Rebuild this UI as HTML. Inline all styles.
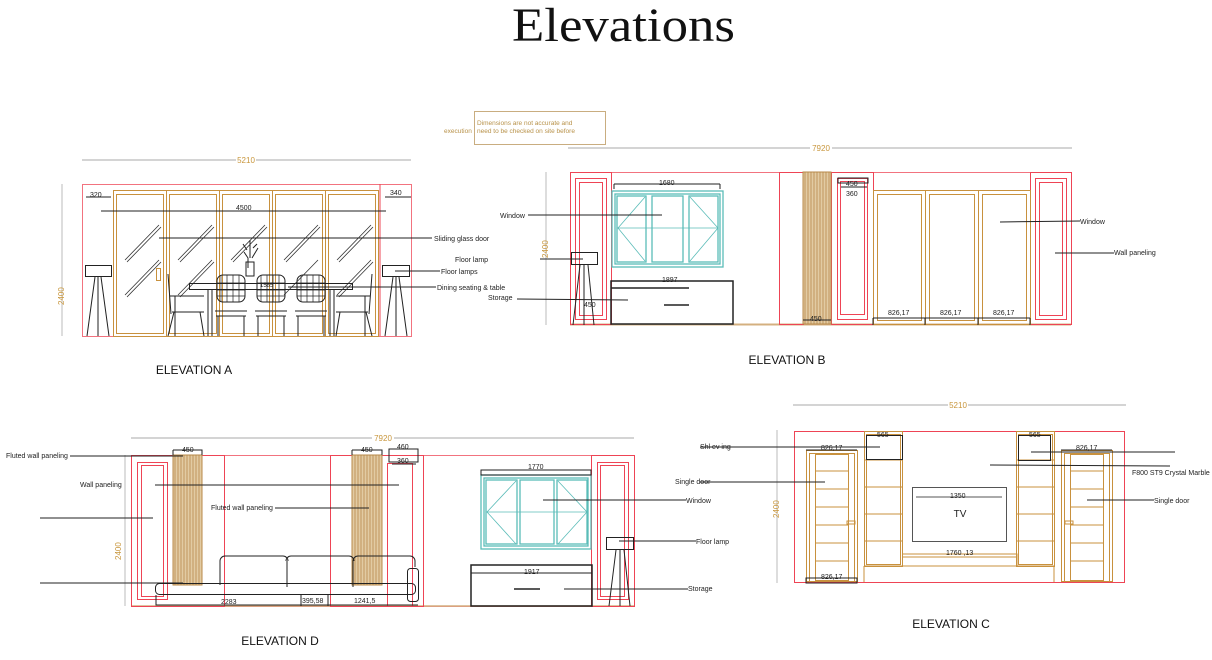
<!DOCTYPE html>
<html><head><meta charset="utf-8"><style>
html,body{margin:0;padding:0;background:#fff;width:1212px;height:660px;overflow:hidden}
text{font-family:"Liberation Sans",sans-serif}
</style></head><body>
<svg width="1212" height="660" viewBox="0 0 1212 660" xmlns="http://www.w3.org/2000/svg">
<defs>
<pattern id="fl" width="3" height="10" patternUnits="userSpaceOnUse"><rect width="3" height="10" fill="#e2cba3"/><line x1="1" y1="0" x2="1" y2="10" stroke="#b8894a" stroke-width="0.8"/></pattern>
</defs>
<text x="512" y="41" font-size="48" textLength="223" lengthAdjust="spacingAndGlyphs" fill="#111" style="font-family:'Liberation Serif',serif">Elevations</text>

<!-- note -->
<rect x="474.5" y="111.5" width="131" height="33" fill="none" stroke="#c9ad80"/>
<text x="477" y="125" font-size="6.5" fill="#b8924a">Dimensions are not accurate and</text>
<text x="477" y="133" font-size="6.5" fill="#b8924a">need to be checked on site before</text>
<text x="444" y="133" font-size="6.5" fill="#b8924a">execution</text>

<g stroke-width="1" fill="none">
<!-- ================= ELEVATION A ================= -->
<line x1="82" y1="160" x2="411" y2="160" stroke="#aaa"/>
<rect x="236" y="155" width="20" height="9" fill="#fff" stroke="none"/>
<text x="246" y="163" font-size="8" fill="#c8963c" text-anchor="middle" stroke="none">5210</text>
<line x1="62" y1="184" x2="62" y2="336" stroke="#bbb"/>
<text x="64" y="305" font-size="8" fill="#c8963c" transform="rotate(-90 64 305)" stroke="none">2400</text>
<rect x="82.5" y="184.5" width="329" height="152" stroke="#f2737f"/>
<line x1="380" y1="184" x2="380" y2="336" stroke="#ee4455"/>
<g stroke="#c8913e">
<rect x="113.5" y="190.5" width="53" height="146"/><rect x="116.5" y="194.5" width="47" height="139"/>
<rect x="166.5" y="190.5" width="53" height="146"/><rect x="169.5" y="194.5" width="47" height="139"/>
<rect x="219.5" y="190.5" width="53" height="146"/><rect x="222.5" y="194.5" width="47" height="139"/>
<rect x="272.5" y="190.5" width="53" height="146"/><rect x="275.5" y="194.5" width="47" height="139"/>
<rect x="325.5" y="190.5" width="53" height="146"/><rect x="328.5" y="194.5" width="47" height="139"/>
</g>
<g stroke="#333" stroke-width="0.8">
<path d="M125 260l34-35M127 262l34-35M125 295l34-35M127 297l34-35M178 260l34-35M180 262l34-35M178 295l34-35M180 297l34-35M231 260l34-35M233 262l34-35M284 260l34-35M286 262l34-35M284 295l34-35M337 260l34-35M339 262l34-35M337 295l34-35M339 297l34-35"/>
</g>
<g stroke="#222">
<line x1="86" y1="197" x2="111" y2="197"/><line x1="385" y1="197" x2="411" y2="197"/>
<line x1="101" y1="211" x2="386" y2="211"/>
<line x1="159" y1="238" x2="432" y2="238"/>
<line x1="395" y1="271" x2="440" y2="271"/>
<line x1="288" y1="287" x2="436" y2="287"/>
<rect x="85.5" y="265.5" width="26" height="11"/><path d="M98 277v59M95 277l-8 59M101 277l8 59"/>
<rect x="382.5" y="265.5" width="27" height="11"/><path d="M396 277v59M393 277l-8 59M399 277l8 59"/>
<rect x="189.5" y="283.5" width="163" height="6"/>
<path d="M208 290v46M212 290v46M330 290v46M334 290v46"/>
<rect x="217" y="275" width="28" height="27" rx="6"/><rect x="257" y="275" width="28" height="27" rx="6"/><rect x="297" y="275" width="28" height="27" rx="6"/>
<path d="M221 275v27M227 275v27M233 275v27M239 275v27M217 283h28M217 290h28M217 296h28M261 275v27M267 275v27M273 275v27M279 275v27M257 283h28M257 290h28M257 296h28M301 275v27M307 275v27M313 275v27M319 275v27M297 283h28M297 290h28M297 296h28" stroke-width="0.7"/>
<path d="M215 311h32M255 311h32M295 311h32M216 316h30M256 316h30M296 316h30M218 316v20M244 316v20M258 316v20M284 316v20M298 316v20M324 316v20"/>
<path d="M168 274l3 40M170 296h34M172 312h32M174 312l-6 24M200 312l4 24M175 296v40"/>
<path d="M372 274l-3 40M336 296h34M336 312h32M366 312l6 24M340 312l-4 24M365 296v40"/>
<path d="M248 268v-10l-4 -6 M250 258v-18M252 258l6-10M247 250l-4-6M253 248l4-4"/><rect x="246" y="262" width="8" height="14"/>
</g>
<rect x="156.5" y="268.5" width="4" height="12" stroke="#c8913e"/>
<g font-size="7" fill="#222" stroke="none">
<text x="90" y="197">320</text><text x="390" y="195">340</text><text x="236" y="210">4500</text>
<text x="434" y="241">Sliding glass door</text><text x="441" y="274">Floor lamps</text><text x="437" y="290">Dining seating &amp; table</text>
<text x="260" y="287" font-size="6">1585</text>
</g>
<text x="194" y="374" font-size="12" fill="#111" text-anchor="middle" stroke="none">ELEVATION A</text>

<!-- ================= ELEVATION B ================= -->
<line x1="568" y1="148" x2="1072" y2="148" stroke="#aaa"/>
<rect x="810" y="143" width="22" height="9" fill="#fff" stroke="none"/>
<text x="821" y="151" font-size="8" fill="#c8963c" text-anchor="middle" stroke="none">7920</text>
<line x1="546" y1="172" x2="546" y2="325" stroke="#bbb"/>
<text x="548" y="258" font-size="8" fill="#c8963c" transform="rotate(-90 548 258)" stroke="none">2400</text>
<rect x="570.5" y="172.5" width="501" height="152" stroke="#f2737f"/>
<line x1="570" y1="324.5" x2="1071" y2="324.5" stroke="#d4b080" stroke-width="2"/>
<g stroke="#ee4455">
<rect x="570.5" y="172.5" width="41" height="152"/><rect x="575.5" y="178.5" width="31" height="141"/><rect x="579.5" y="182.5" width="23" height="133"/>
<rect x="779.5" y="172.5" width="24" height="152"/>
<rect x="831.5" y="172.5" width="42" height="152"/><rect x="837.5" y="178.5" width="30" height="141"/><rect x="840.5" y="181.5" width="24" height="133"/>
<rect x="1030.5" y="172.5" width="41" height="152"/><rect x="1035.5" y="178.5" width="31" height="141"/><rect x="1039.5" y="182.5" width="23" height="133"/>
</g>
<rect x="803" y="172" width="28" height="152" fill="url(#fl)" stroke="#b8894a"/>
<g stroke="#c8913e">
<rect x="873.5" y="190.5" width="52" height="134"/><rect x="877.5" y="194.5" width="44" height="126"/>
<rect x="925.5" y="190.5" width="53" height="134"/><rect x="929.5" y="194.5" width="45" height="126"/>
<rect x="978.5" y="190.5" width="52" height="134"/><rect x="982.5" y="194.5" width="44" height="126"/>
</g>
<g stroke="#5bbcb8" stroke-width="1.3">
<rect x="612" y="191" width="111" height="76"/><rect x="615" y="194" width="105" height="70"/>
<rect x="617" y="196" width="29" height="66"/><rect x="652" y="196" width="31" height="66"/><rect x="689" y="196" width="29" height="66"/>
<path d="M617 228h101M618 228l27-31M618 228l27 33M718 228l-28-31M718 228l-28 33" stroke-width="0.8"/>
</g>
<g stroke="#222">
<line x1="614" y1="184" x2="720" y2="184"/><path d="M614 184v5M720 184v5"/>
<rect x="611" y="281" width="122" height="43" stroke-width="1.5"/>
<line x1="611" y1="288" x2="689" y2="288" stroke-width="1.5"/><line x1="664" y1="305" x2="689" y2="305" stroke-width="1.5"/>
<rect x="571.5" y="252.5" width="26" height="12"/><path d="M584 265v60M580 265l-7 60M588 265l6 60"/>
<path d="M838 178h30v5h-30zM841 187h26"/>
<path d="M803 320h28M873 318h157M873 318v7M925 318v7M978 318v7M1030 318v7"/>
<line x1="528" y1="215" x2="662" y2="215"/>
<line x1="540" y1="259" x2="583" y2="259"/>
<line x1="517" y1="299" x2="628" y2="300"/>
<line x1="1000" y1="222" x2="1080" y2="221"/>
<line x1="1055" y1="253" x2="1114" y2="253"/>
</g>
<g font-size="7" fill="#222" stroke="none">
<text x="659" y="185">1680</text><text x="662" y="282">1897</text>
<text x="846" y="186">450</text><text x="846" y="196">360</text><text x="810" y="321">450</text>
<text x="888" y="315">826,17</text><text x="940" y="315">826,17</text><text x="993" y="315">826,17</text>
<text x="584" y="307">450</text>
<text x="500" y="218">Window</text><text x="455" y="262">Floor lamp</text><text x="488" y="300">Storage</text>
<text x="1080" y="224">Window</text><text x="1114" y="255">Wall paneling</text>
</g>
<text x="787" y="364" font-size="12" fill="#111" text-anchor="middle" stroke="none">ELEVATION B</text>

<!-- ================= ELEVATION D ================= -->
<line x1="131" y1="438" x2="634" y2="438" stroke="#aaa"/>
<rect x="372" y="433" width="22" height="9" fill="#fff" stroke="none"/>
<text x="383" y="441" font-size="8" fill="#c8963c" text-anchor="middle" stroke="none">7920</text>
<line x1="125" y1="455" x2="125" y2="606" stroke="#bbb"/>
<text x="121" y="560" font-size="8" fill="#c8963c" transform="rotate(-90 121 560)" stroke="none">2400</text>
<rect x="131.5" y="455.5" width="503" height="151" stroke="#f2737f"/>
<line x1="131" y1="606" x2="634" y2="606" stroke="#d4b080" stroke-width="1.5"/>
<g stroke="#ee4455">
<rect x="131.5" y="455.5" width="93" height="151"/><rect x="137.5" y="462.5" width="30" height="137"/><rect x="141.5" y="465.5" width="22" height="131"/>
<rect x="330.5" y="455.5" width="93" height="151"/><rect x="387.5" y="463.5" width="25" height="143"/>
<rect x="591.5" y="455.5" width="43" height="151"/><rect x="597.5" y="462.5" width="31" height="137"/><rect x="600.5" y="465.5" width="24" height="131"/>
</g>
<rect x="173" y="455" width="29" height="130" fill="url(#fl)" stroke="#b8894a"/>
<rect x="352" y="455" width="30" height="130" fill="url(#fl)" stroke="#b8894a"/>
<g stroke="#5bbcb8" stroke-width="1.3">
<rect x="481" y="475" width="110" height="74"/><rect x="484" y="478" width="104" height="68"/>
<rect x="486" y="480" width="31" height="64"/><rect x="520" y="480" width="34" height="64"/><rect x="557" y="480" width="30" height="64"/>
<path d="M486 512h101M487 512l29-31M487 512l29 32M587 512l-29-31M587 512l-29 32" stroke-width="0.8"/>
</g>
<g stroke="#222">
<path d="M173 450h29v5M173 450v5M352 450h30v5M352 450v5M389 449h29v13h-29zM392 464h24"/>
<rect x="481" y="470" width="110" height="5"/>
<rect x="471" y="565" width="121" height="41" stroke-width="1.5"/>
<line x1="471" y1="573" x2="592" y2="573"/><line x1="514" y1="589" x2="540" y2="589" stroke-width="1.5"/>
<rect x="606.5" y="537.5" width="27" height="12"/><path d="M620 550v56M616 550l-7 56M624 550l6 56"/>
<path d="M220 585v-24a5 5 0 0 1 5-5h58a5 5 0 0 1 5 5M286 561a5 5 0 0 1 5-5h58a5 5 0 0 1 5 5M353 561a5 5 0 0 1 5-5h52a5 5 0 0 1 5 5v6"/>
<path d="M287 561v26M353 561v26"/>
<rect x="155.5" y="583.5" width="260" height="11" rx="4"/>
<rect x="407.5" y="568.5" width="11" height="33" rx="3"/>
<path d="M156 595v10h262M157 605h258M301 595v11M328 595v11"/>
<line x1="40" y1="518" x2="153" y2="518"/>
<line x1="40" y1="583" x2="183" y2="583"/>
<line x1="155" y1="485" x2="399" y2="485"/>
<line x1="275" y1="508" x2="369" y2="508"/>
<line x1="70" y1="456" x2="183" y2="456"/>
<line x1="543" y1="500" x2="686" y2="500"/>
<line x1="619" y1="541" x2="696" y2="541"/>
<line x1="564" y1="589" x2="688" y2="589"/>
</g>
<g font-size="7" fill="#222" stroke="none">
<text x="182" y="452">450</text><text x="361" y="452">450</text><text x="397" y="449">460</text><text x="397" y="463">360</text>
<text x="528" y="469">1770</text><text x="524" y="574">1917</text>
<text x="221" y="604">2283</text><text x="302" y="603">395,58</text><text x="354" y="603">1241,5</text>
<text x="6" y="458">Fluted wall paneling</text><text x="80" y="487">Wall paneling</text><text x="211" y="510">Fluted wall paneling</text>
<text x="686" y="503">Window</text><text x="696" y="544">Floor lamp</text><text x="688" y="591">Storage</text>
</g>
<text x="280" y="645" font-size="12" fill="#111" text-anchor="middle" stroke="none">ELEVATION D</text>

<!-- ================= ELEVATION C ================= -->
<line x1="793" y1="405" x2="1126" y2="405" stroke="#aaa"/>
<rect x="948" y="400" width="20" height="9" fill="#fff" stroke="none"/>
<text x="958" y="408" font-size="8" fill="#c8963c" text-anchor="middle" stroke="none">5210</text>
<line x1="777" y1="430" x2="777" y2="583" stroke="#bbb"/>
<text x="779" y="518" font-size="8" fill="#c8963c" transform="rotate(-90 779 518)" stroke="none">2400</text>
<rect x="794.5" y="431.5" width="330" height="151" stroke="#ee4455"/>
<g stroke="#c8913e">
<rect x="806.5" y="450.5" width="51" height="131"/><rect x="809.5" y="453.5" width="45" height="128"/><rect x="815.5" y="454.5" width="33" height="126"/>
<path d="M815 471h33M815 489h33M815 507h33M815 525h33M815 543h33M815 561h33"/>
<rect x="1061.5" y="450.5" width="51" height="131"/><rect x="1064.5" y="453.5" width="45" height="128"/><rect x="1070.5" y="454.5" width="33" height="126"/>
<path d="M1070 471h33M1070 489h33M1070 507h33M1070 525h33M1070 543h33M1070 561h33"/>
<rect x="864.5" y="431.5" width="38" height="135"/><rect x="866.5" y="434.5" width="34" height="130"/>
<path d="M865 460h38M865 487h38M865 514h38M865 541h38"/>
<rect x="1016.5" y="431.5" width="38" height="135"/><rect x="1018.5" y="434.5" width="34" height="130"/>
<path d="M1017 460h38M1017 487h38M1017 514h38M1017 541h38"/>
<path d="M864 566h190v16M864 566v16M903 554h114v13M903 557h114"/>
<rect x="847" y="521" width="8" height="3"/><rect x="1065" y="521" width="8" height="3"/>
</g>
<g stroke="#222">
<rect x="866.5" y="435.5" width="36" height="24"/><rect x="1018.5" y="435.5" width="32" height="25"/>
<rect x="912.5" y="487.5" width="94" height="54" stroke="#555"/>
<line x1="916" y1="497" x2="1002" y2="497" stroke="#555"/>
<path d="M806 450h51M1061 450h51M806 578h51v5h-51z"/>
<line x1="700" y1="447" x2="880" y2="447"/>
<line x1="700" y1="482" x2="825" y2="482"/>
<line x1="1031" y1="452" x2="1175" y2="452"/>
<line x1="990" y1="465" x2="1170" y2="466"/>
<line x1="1087" y1="500" x2="1154" y2="500"/>
</g>
<g font-size="7" fill="#222" stroke="none">
<text x="877" y="437">565</text><text x="1029" y="437">565</text>
<text x="821" y="450">826,17</text><text x="1076" y="450">826,17</text><text x="821" y="579">826,17</text>
<text x="950" y="498">1350</text><text x="946" y="555">1760 ,13</text>
<text x="700" y="449">Shl ev ing</text><text x="675" y="484">Single door</text>
<text x="1132" y="475">F800 ST9 Crystal Marble</text><text x="1154" y="503">Single door</text>
<text x="960" y="517" font-size="10" text-anchor="middle">TV</text>
</g>
<text x="951" y="628" font-size="12" fill="#111" text-anchor="middle" stroke="none">ELEVATION C</text>
</g>
</svg>
</body></html>
